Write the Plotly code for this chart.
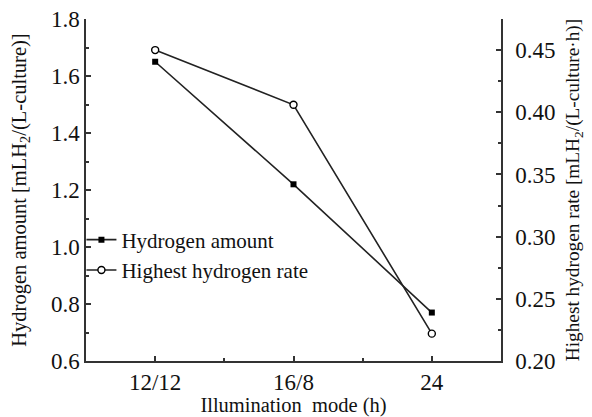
import plotly.graph_objects as go

categories = ["12/12", "16/8", "24"]
hydrogen_amount = [1.65, 1.22, 0.77]
highest_rate = [0.450, 0.406, 0.222]
left_ticks = [0.6, 0.8, 1.0, 1.2, 1.4, 1.6, 1.8]
right_ticks = [0.20, 0.25, 0.30, 0.35, 0.40, 0.45]

xpos = list(range(len(categories)))
FONT = "Liberation Serif"

fig = go.Figure()
fig.add_trace(go.Scatter(
    x=xpos, y=hydrogen_amount, name="Hydrogen amount", mode="lines+markers",
    line=dict(color="#222", width=1.6),
    marker=dict(symbol="square", size=6, color="black"),
    yaxis="y"))
fig.add_trace(go.Scatter(
    x=xpos, y=highest_rate, name="Highest hydrogen rate", mode="lines+markers",
    line=dict(color="#222", width=1.6),
    marker=dict(symbol="circle", size=7, color="white", line=dict(width=1.4, color="black")),
    yaxis="y2"))

axis_common = dict(showgrid=False, zeroline=False, showline=True, linecolor="#333",
                   linewidth=1.5, ticks="inside", tickcolor="#333", tickwidth=1.5, ticklen=5,
                   automargin=False, ticklabeloverflow="allow",
                   tickfont=dict(family=FONT, size=23, color="#111"))

# the page body adds an 8px offset, so the figure is drawn 8px smaller
fig.update_layout(
    width=584, height=409,
    margin=dict(l=78, r=91, t=11, b=56),
    paper_bgcolor="white", plot_bgcolor="white",
    font=dict(family=FONT, size=20, color="#111"),
    showlegend=True,
    legend=dict(x=-0.011, y=0.31, xanchor="left", yanchor="middle", bgcolor="rgba(0,0,0,0)",
                font=dict(family=FONT, size=21, color="#111"), tracegroupgap=0,
                itemwidth=30),
    xaxis=dict(**axis_common, range=[-0.5, 2.5], tickvals=xpos, ticktext=categories,
               minor=dict(tickvals=[0.5, 1.5], ticks="inside", ticklen=3, tickcolor="#333", tickwidth=1.5),
               title=dict(text="Illumination\u00a0\u00a0mode (h)", font=dict(family=FONT, size=20.5), standoff=8)),
    yaxis=dict(**axis_common, range=[0.6, 1.8], tickvals=left_ticks,
               tickformat=".1f",
               minor=dict(dtick=0.1, ticks="inside", ticklen=3, tickcolor="#333", tickwidth=1.5),
               title=dict(text="Hydrogen amount [mLH<sub>2</sub>/(L-culture)]",
                          font=dict(family=FONT, size=20.5), standoff=19)),
    yaxis2=dict(**axis_common, range=[0.2, 0.475], tickvals=right_ticks, tickformat=".2f",
                overlaying="y", side="right", ticklabelstandoff=8,
                minor=dict(dtick=0.025, ticks="inside", ticklen=3, tickcolor="#333", tickwidth=1.5),
                title=dict(text="Highest hydrogen rate [mLH<sub>2</sub>/(L-culture·h)]",
                           font=dict(family=FONT, size=19.3), standoff=11)),
)

fig.write_html("out.html")
